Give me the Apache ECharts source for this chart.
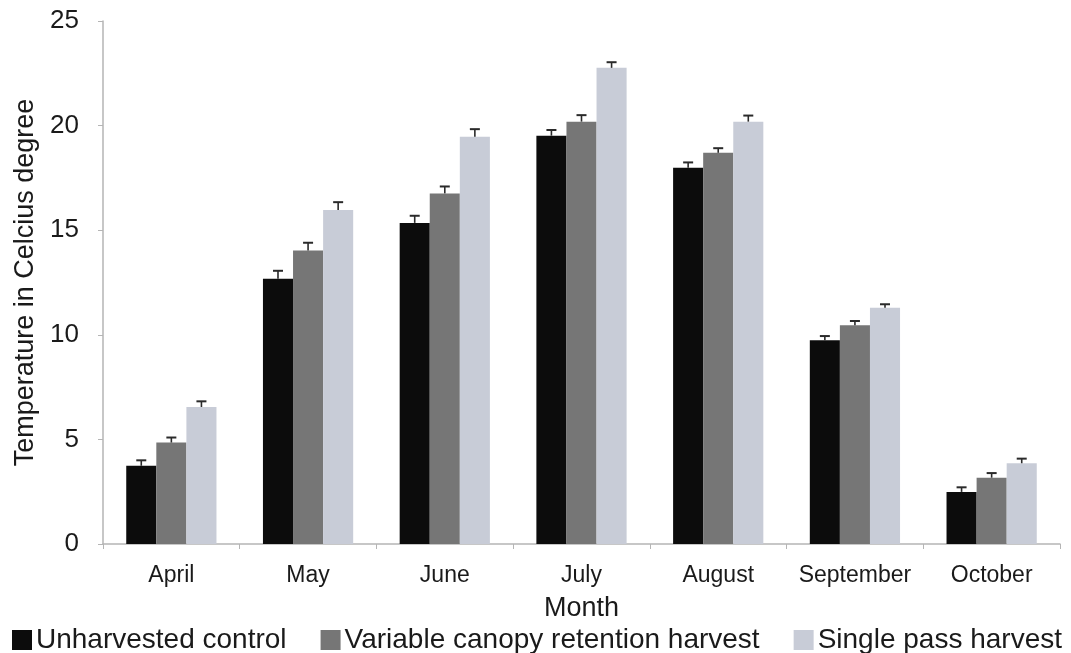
<!DOCTYPE html>
<html>
<head>
<meta charset="utf-8">
<script src="https://cdn.jsdelivr.net/npm/echarts@6/dist/echarts.min.js"></script>
<style>
html,body{margin:0;padding:0;background:#fff;}
#chart{width:1071px;height:653px;}
</style>
</head>
<body>
<div id="chart"></div>
<script>
var months = ['April','May','June','July','August','September','October'];
var control = [3.74, 12.68, 15.35, 19.52, 17.98, 9.74, 2.49];
var variable = [4.85, 14.03, 16.76, 20.19, 18.70, 10.46, 3.17];
var single = [6.55, 15.96, 19.47, 22.76, 20.19, 11.29, 3.86];
var controlErr = [0.26, 0.38, 0.34, 0.27, 0.26, 0.20, 0.22];
var variableErr = [0.24, 0.37, 0.33, 0.31, 0.22, 0.20, 0.22];
var singleErr = [0.27, 0.38, 0.36, 0.27, 0.29, 0.17, 0.22];
var yTicks = [0, 5, 10, 15, 20, 25];

var seriesNames = ['Unharvested control', 'Variable canopy retention harvest', 'Single pass harvest'];
var colors = ['#0c0c0c', '#767676', '#c8ccd7'];
var values = [control, variable, single];
var errors = [controlErr, variableErr, singleErr];
var gapPct = 0.34;

var errData = [];
for (var s = 0; s < 3; s++) {
  for (var i = 0; i < months.length; i++) {
    errData.push([i, values[s][i], errors[s][i], s]);
  }
}

var font = 'Liberation Sans, Arial, sans-serif';
var chart = echarts.init(document.getElementById('chart'), null, {renderer: 'canvas'});

var series = [];
for (var k = 0; k < 3; k++) {
  series.push({
    name: seriesNames[k],
    type: 'bar',
    data: values[k],
    barGap: '0%',
    barCategoryGap: (gapPct * 100) + '%',
    itemStyle: {color: colors[k]},
    animation: false
  });
}
series.push({
  type: 'custom',
  name: 'err',
  data: errData,
  z: 10,
  animation: false,
  renderItem: function (params, api) {
    var x = api.value(0), v = api.value(1), e = api.value(2), si = api.value(3);
    var base = api.coord([x, v]);
    var top = api.coord([x, v + e]);
    var band = api.size([1, 0])[0];
    var bw = band * (1 - gapPct) / 3;
    var cx = base[0] + (si - 1) * bw;
    var style = {stroke: '#2a2a2a', lineWidth: 1.6};
    return {
      type: 'group',
      children: [
        {type: 'line', shape: {x1: cx, y1: base[1], x2: cx, y2: top[1]}, style: style},
        {type: 'line', shape: {x1: cx - 5, y1: top[1], x2: cx + 5, y2: top[1]}, style: {stroke: '#2a2a2a', lineWidth: 2}}
      ]
    };
  }
});

chart.setOption({
  backgroundColor: '#ffffff',
  animation: false,
  grid: {left: 103, right: 11, top: 21, bottom: 109},
  legend: {
    data: seriesNames,
    left: 7,
    top: 621,
    icon: 'rect',
    itemWidth: 20,
    itemHeight: 20,
    itemGap: 34,
    textStyle: {fontFamily: font, fontSize: 28, color: '#1a1a1a', padding: [0, 0, 0, -1]}
  },
  xAxis: {
    type: 'category',
    data: months,
    name: 'Month',
    nameLocation: 'middle',
    nameGap: 51,
    nameTextStyle: {fontFamily: font, fontSize: 27, color: '#1a1a1a'},
    axisLine: {lineStyle: {color: '#b5b5b5', width: 1.5}},
    axisTick: {show: true, interval: 0, alignWithLabel: false, length: 5, lineStyle: {color: '#b5b5b5'}},
    axisLabel: {interval: 0, fontFamily: font, fontSize: 23, color: '#1a1a1a', margin: 20}
  },
  yAxis: {
    type: 'value',
    min: 0,
    max: 25,
    interval: 5,
    name: 'Temperature in Celcius degree',
    nameLocation: 'middle',
    nameGap: 60,
    nameTextStyle: {fontFamily: font, fontSize: 27, color: '#1a1a1a'},
    axisLine: {show: true, lineStyle: {color: '#b5b5b5', width: 1.5}},
    axisTick: {show: true, length: 5, lineStyle: {color: '#b5b5b5'}},
    splitLine: {show: false},
    axisLabel: {
      fontFamily: font, fontSize: 26, color: '#1a1a1a', margin: 24,
      formatter: function (v) { return yTicks.indexOf(v) >= 0 ? String(v) : ''; }
    }
  },
  series: series
});
</script>
</body>
</html>
